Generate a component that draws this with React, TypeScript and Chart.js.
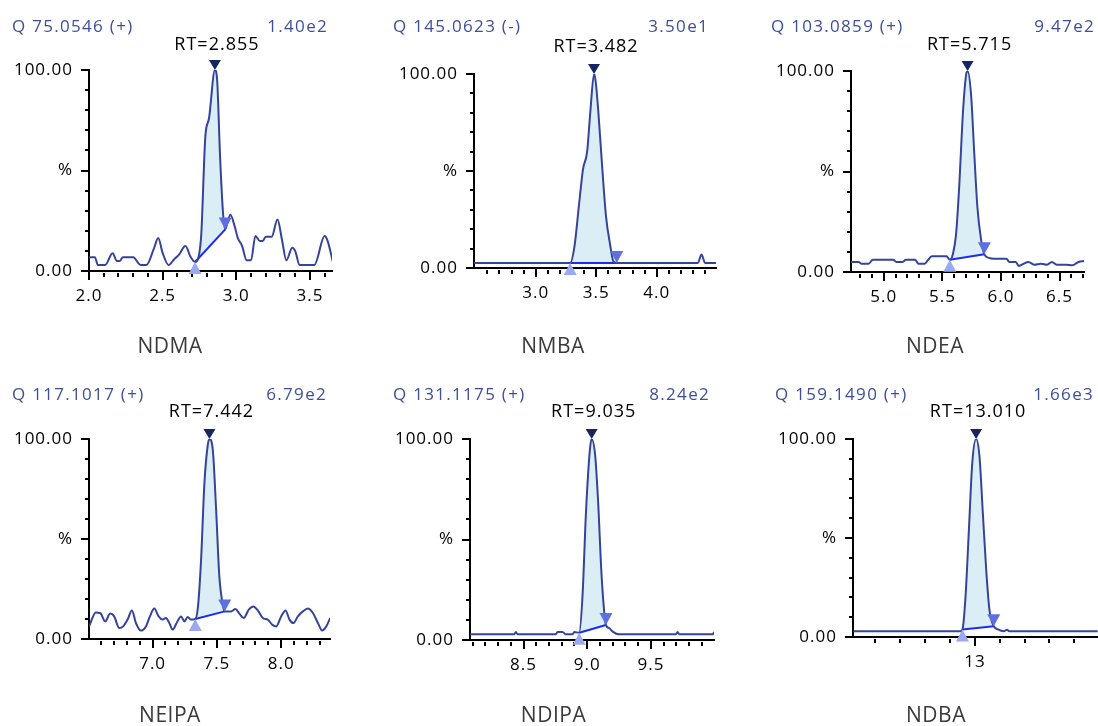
import React, { useEffect, useRef } from 'react';
import { Chart, registerables } from 'chart.js';
Chart.register(...registerables);

// ---------- data ----------
const compoundNames = ['NDMA', 'NMBA', 'NDEA', 'NEIPA', 'NDIPA', 'NDBA'];
const quantIons = ['Q 75.0546 (+)', 'Q 145.0623 (-)', 'Q 103.0859 (+)', 'Q 117.1017 (+)', 'Q 131.1175 (+)', 'Q 159.1490 (+)'];
const maxIntensities = ['1.40e2', '3.50e1', '9.47e2', '6.79e2', '8.24e2', '1.66e3'];
const retentionTimes = ['RT=2.855', 'RT=3.482', 'RT=5.715', 'RT=7.442', 'RT=9.035', 'RT=13.010'];
const peakStarts = [2.72, 3.285, 5.563, 7.332, 8.937, 12.9];
const peakEnds = [2.925, 3.67, 5.858, 7.561, 9.147, 13.152];
const peakApexes = [2.855, 3.482, 5.715, 7.442, 9.035, 13.01];
const xMins = [2.0, 2.49, 4.72, 6.505, 8.08, 12.02];
const xMaxs = [3.65, 4.49, 6.71, 8.38, 9.995, 13.99];
const xTickFrom = [2.0, 2.6, 4.8, 6.6, 8.1, 12.2];
const xTickTo = [3.6, 4.4, 6.7, 8.3, 9.9, 13.8];
const xMinorSteps = [0.1, 0.1, 0.1, 0.1, 0.1, 0.2];
const xMajorSteps = [0.5, 0.5, 0.5, 0.5, 0.5, 1];
const xDecimals = [1, 1, 1, 1, 1, 0];
const yTickValues = [0, 10, 20, 30, 40, 50, 60, 70, 80, 90, 100];
const yTickLabels: Record<number, string> = { 0: '0.00', 50: '%', 100: '100.00' };

const ndmaTime = [2.0, 2.04, 2.06, 2.11, 2.16, 2.19, 2.21, 2.23, 2.3, 2.35, 2.39, 2.44, 2.47, 2.5, 2.54, 2.58, 2.61, 2.655, 2.69, 2.72, 2.76, 2.79, 2.815, 2.855, 2.87, 2.89, 2.91, 2.925, 2.94, 2.96, 2.99, 3.01, 3.04, 3.07, 3.1, 3.13, 3.16, 3.18, 3.2, 3.24, 3.28, 3.31, 3.34, 3.38, 3.4, 3.43, 3.53, 3.6, 3.62, 3.66];
const ndmaIntensity = [6.9, 6.9, 3.0, 3.0, 8.8, 5.0, 5.0, 6.9, 6.9, 3.0, 3.0, 11, 16.4, 9, 3.0, 6, 8, 12.4, 7, 4.5, 15.7, 67, 76, 100, 95, 57, 29, 20.7, 24, 28, 22, 16.5, 12.4, 5.3, 5.3, 17.4, 14.9, 14.9, 17, 17, 25.6, 15.7, 5.3, 11.6, 10, 3, 3, 17.4, 15, 3.3];

const nmbaTime = [2.49, 3.285, 3.32, 3.363, 3.391, 3.425, 3.452, 3.482, 3.494, 3.517, 3.545, 3.581, 3.615, 3.642, 3.67, 4.34, 4.37, 4.4, 4.49];
const nmbaIntensity = [2.6, 2.6, 11, 35.7, 51, 60, 81, 100, 97, 81, 56, 26.6, 12, 3.4, 2.6, 2.6, 6.9, 2.6, 2.6];

const ndeaTime = [4.72, 4.786, 4.81, 4.87, 4.906, 5.08, 5.107, 5.16, 5.188, 5.268, 5.295, 5.35, 5.375, 5.41, 5.536, 5.563, 5.59, 5.617, 5.643, 5.676, 5.702, 5.715, 5.745, 5.772, 5.799, 5.831, 5.858, 5.898, 5.938, 6.046, 6.072, 6.126, 6.153, 6.193, 6.233, 6.287, 6.34, 6.394, 6.434, 6.475, 6.555, 6.609, 6.662, 6.71];
const ndeaIntensity = [5, 5, 4.1, 4.1, 6.1, 6.1, 5, 5, 6.1, 6.1, 4.1, 4.1, 5.8, 7.8, 7.8, 6.1, 9, 19, 42, 80, 98, 100, 88, 59, 32, 15.7, 8.8, 7, 6.6, 6.6, 5, 5, 3, 4.1, 5, 3.6, 4.1, 3.6, 5, 3.6, 3.6, 3.3, 5, 5.5];

const neipaTime = [6.506, 6.558, 6.592, 6.631, 6.67, 6.701, 6.74, 6.771, 6.805, 6.839, 6.87, 6.909, 6.948, 6.979, 7.013, 7.047, 7.078, 7.104, 7.13, 7.156, 7.187, 7.221, 7.247, 7.273, 7.299, 7.332, 7.353, 7.377, 7.403, 7.429, 7.442, 7.468, 7.494, 7.519, 7.551, 7.561, 7.61, 7.644, 7.675, 7.709, 7.748, 7.784, 7.818, 7.857, 7.896, 7.93, 7.961, 8.0, 8.034, 8.065, 8.096, 8.13, 8.169, 8.208, 8.247, 8.286, 8.319, 8.351, 8.382];
const neipaIntensity = [6.3, 13.3, 13, 8.8, 12.7, 11.3, 5.5, 6.3, 9.7, 14.3, 8, 4.2, 6.3, 11.3, 15.2, 11.3, 9.7, 10.5, 8, 4.7, 8, 11.3, 8.8, 11, 9.7, 10, 16.3, 39.7, 78, 97, 100, 94.7, 64.7, 31.3, 15.5, 13.8, 13.8, 15, 12.7, 10.5, 14.7, 16.3, 14.3, 10.5, 9.7, 7.2, 6.3, 11.3, 14.3, 9.7, 8, 11.3, 13.8, 15.2, 13, 8, 4.2, 6.3, 10.5];

const ndipaTime = [8.081, 8.427, 8.44, 8.453, 8.754, 8.767, 8.806, 8.832, 8.885, 8.898, 8.937, 8.963, 8.99, 9.021, 9.035, 9.063, 9.086, 9.113, 9.147, 9.17, 9.2, 9.251, 9.696, 9.709, 9.723, 9.984, 9.997];
const ndipaIntensity = [2.8, 2.8, 4, 2.8, 2.8, 4, 4, 2.8, 2.8, 4, 3.6, 21.9, 63.2, 94.7, 100, 91.4, 68.2, 31.8, 7.5, 6, 4.2, 2.8, 2.8, 4, 2.8, 2.8, 4];

const ndbaTime = [12.024, 12.885, 12.9, 12.925, 12.952, 12.979, 13.01, 13.037, 13.064, 13.091, 13.117, 13.152, 13.192, 13.232, 13.259, 13.277, 13.987];
const ndbaIntensity = [2.9, 2.9, 3.8, 20.5, 54.2, 87.9, 100, 91.2, 62.6, 34, 13.8, 5.4, 3.7, 2.9, 3.7, 2.9, 2.9];

const traceTimes = [ndmaTime, nmbaTime, ndeaTime, neipaTime, ndipaTime, ndbaTime];
const traceIntensities = [ndmaIntensity, nmbaIntensity, ndeaIntensity, neipaIntensity, ndipaIntensity, ndbaIntensity];

// ---------- layout (pixels, relative to each panel canvas) ----------
const PW = 366;
const PH = 363;
const panelOrigins = [[0, 0], [366, 0], [732, 0], [0, 363], [366, 363], [732, 363]];
const plotAreas = [
  [89, 70, 332, 271],
  [108, 74, 350, 268],
  [119, 71, 366, 272],
  [89, 76, 330, 276],
  [104, 76, 348, 277],
  [121, 76, 366, 274],
];
const quantX = [12, 27, 39, 12, 27, 43];
const scaleRight = [328, 343, 363, 327, 344, 362];
const headerBase = [32, 32, 32, 37, 37, 37];
const rtBase = [49.5, 51.5, 50, 54, 53.5, 54];
const nameX = [170, 187, 203, 170, 187.5, 204];
const nameBase = [352.5, 352.5, 352.5, 359, 359, 358.5];

const FONT = '"Open Sans", "Noto Sans", sans-serif';
const TRACE = '#34449a';
const FILL = 'rgba(196, 226, 238, 0.6)';
const BASE = '#1b2cf2';
const APEX = '#16245f';
const START = '#9aa9f2';
const END = '#606fe0';
const HEAD = '#3d4f9a';

function tri(ctx: CanvasRenderingContext2D, x: number, y: number, down: boolean, color: string, w = 12, h = 10) {
  ctx.beginPath();
  ctx.moveTo(x, y);
  if (down) {
    ctx.lineTo(x - w / 2, y - h);
    ctx.lineTo(x + w / 2, y - h);
  } else {
    ctx.lineTo(x - w / 2, y + h);
    ctx.lineTo(x + w / 2, y + h);
  }
  ctx.closePath();
  ctx.fillStyle = color;
  ctx.fill();
}

function setSpacing(ctx: any, v: string) {
  if (ctx && 'letterSpacing' in ctx) ctx.letterSpacing = v;
}

function Panel({ i }: { i: number }) {
  const ref = useRef<HTMLCanvasElement>(null);
  useEffect(() => {
    const time = traceTimes[i];
    const inten = traceIntensities[i];
    const pts = time.map((t, k) => ({ x: t, y: inten[k] }));
    const s = peakStarts[i];
    const e = peakEnds[i];
    const peakPts = pts.filter((p) => p.x >= s - 1e-9 && p.x <= e + 1e-9);
    const startPt = peakPts[0];
    const endPt = peakPts[peakPts.length - 1];
    const apexT = peakApexes[i];
    const [L, T, R, B] = plotAreas[i];

    const minor = xMinorSteps[i];
    const major = xMajorSteps[i];
    const xTicks: number[] = [];
    const n = Math.round((xTickTo[i] - xTickFrom[i]) / minor);
    for (let k = 0; k <= n; k++) xTicks.push(+(xTickFrom[i] + k * minor).toFixed(3));
    const isMajorX = (v: number) => Math.abs(v / major - Math.round(v / major)) < 1e-6;

    const decor = {
      id: 'decor',
      beforeUpdate(chart: any) {
        setSpacing(chart.ctx, '1px');
      },
      beforeLayout(chart: any) {
        setSpacing(chart.ctx, '1px');
      },
      beforeDraw(chart: any) {
        setSpacing(chart.ctx, '1px');
      },
      afterDraw(chart: any) {
        const ctx: CanvasRenderingContext2D = chart.ctx;
        const xs = chart.scales.x;
        const ys = chart.scales.y;
        const area = chart.chartArea;
        ctx.save();
        // tick marks
        ctx.strokeStyle = '#000';
        ctx.lineWidth = 2;
        xs.ticks.forEach((t: any) => {
          const px = Math.round(xs.getPixelForValue(t.value));
          const mj = isMajorX(t.value);
          ctx.beginPath();
          ctx.moveTo(px, area.bottom + (mj ? 0 : 2));
          ctx.lineTo(px, area.bottom + (mj ? 9 : 6));
          ctx.stroke();
        });
        ys.ticks.forEach((t: any) => {
          const py = Math.round(ys.getPixelForValue(t.value));
          const mj = t.value % 50 === 0;
          ctx.beginPath();
          ctx.moveTo(area.left - (mj ? 0 : 1), py);
          ctx.lineTo(area.left - (mj ? 8 : 4), py);
          ctx.stroke();
        });
        // peak markers
        const ax = xs.getPixelForValue(apexT);
        const ay = ys.getPixelForValue(100);
        tri(ctx, ax, ay, true, APEX, 12, 10);
        tri(ctx, xs.getPixelForValue(startPt.x), ys.getPixelForValue(startPt.y), false, START, 13, 12);
        tri(ctx, xs.getPixelForValue(endPt.x), ys.getPixelForValue(endPt.y), true, END, 13, 12);
        // texts
        ctx.textBaseline = 'alphabetic';
        ctx.font = `17px ${FONT}`;
        setSpacing(ctx, '1.3px');
        ctx.fillStyle = HEAD;
        ctx.textAlign = 'left';
        ctx.fillText(quantIons[i], quantX[i], headerBase[i]);
        ctx.textAlign = 'right';
        ctx.fillText(maxIntensities[i], scaleRight[i], headerBase[i]);
        ctx.font = `18px ${FONT}`;
        setSpacing(ctx, '1px');
        ctx.fillStyle = '#000';
        ctx.textAlign = 'center';
        ctx.fillText(retentionTimes[i], ax + 2, rtBase[i]);
        ctx.font = `21px ${FONT}`;
        setSpacing(ctx, '0.5px');
        ctx.fillStyle = '#3a3a3a';
        ctx.fillText(compoundNames[i], nameX[i], nameBase[i]);
        ctx.restore();
      },
    };

    const chart = new Chart(ref.current as HTMLCanvasElement, {
      type: 'line',
      data: {
        datasets: [
          {
            data: peakPts,
            borderWidth: 0,
            pointRadius: 0,
            backgroundColor: FILL,
            fill: { target: 1 },
            cubicInterpolationMode: 'monotone',
            order: 3,
          } as any,
          {
            data: [startPt, endPt],
            borderColor: BASE,
            borderWidth: 2,
            pointRadius: 0,
            fill: false,
            order: 2,
          },
          {
            data: pts,
            borderColor: TRACE,
            borderWidth: 2,
            pointRadius: 0,
            fill: false,
            cubicInterpolationMode: 'monotone',
            order: 1,
          },
        ],
      },
      options: {
        animation: false,
        responsive: false,
        events: [],
        layout: { padding: { left: 0, top: T, right: PW - R, bottom: 0 } },
        plugins: { legend: { display: false }, tooltip: { enabled: false }, title: { display: false } },
        scales: {
          x: {
            type: 'linear',
            min: xMins[i],
            max: xMaxs[i],
            grid: { display: false, drawTicks: false },
            border: { display: true, color: '#000', width: 2 },
            afterBuildTicks: (sc: any) => {
              sc.ticks = xTicks.map((v) => ({ value: v }));
            },
            afterFit: (sc: any) => {
              sc.height = PH - B;
            },
            ticks: {
              autoSkip: false,
              maxRotation: 0,
              padding: 15,
              color: '#000',
              font: { family: FONT, size: 17 },
              callback: (v: any) => (isMajorX(+v) ? (+v).toFixed(xDecimals[i]) : ''),
            },
          },
          y: {
            type: 'linear',
            min: 0,
            max: 100,
            grid: { display: false, drawTicks: false },
            border: { display: true, color: '#000', width: 2 },
            afterBuildTicks: (sc: any) => {
              sc.ticks = yTickValues.map((v) => ({ value: v }));
            },
            afterFit: (sc: any) => {
              sc.width = L;
            },
            ticks: {
              autoSkip: false,
              padding: 16,
              color: '#000',
              font: { family: FONT, size: 17 },
              callback: (v: any) => yTickLabels[+v] ?? '',
            },
          },
        },
      },
      plugins: [decor],
    } as any);
    return () => chart.destroy();
  }, [i]);
  const [ox, oy] = panelOrigins[i];
  return (
    <canvas
      ref={ref}
      width={PW}
      height={PH}
      style={{ position: 'absolute', left: ox, top: oy, width: PW, height: PH }}
    />
  );
}

export default function App() {
  return (
    <div style={{ position: 'absolute', left: 0, top: 0, width: 1098, height: 726, background: '#fff', overflow: 'hidden' }}>
      {compoundNames.map((_, i) => (
        <Panel key={i} i={i} />
      ))}
    </div>
  );
}
